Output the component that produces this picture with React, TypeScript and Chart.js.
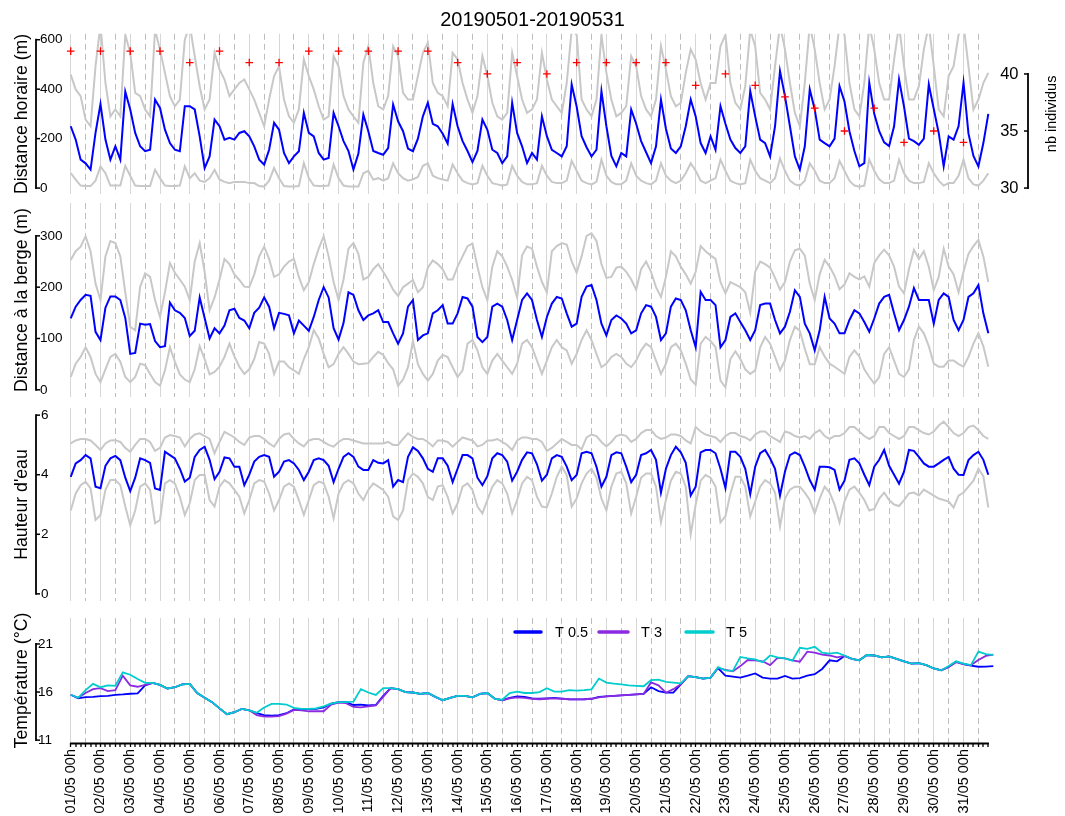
import React, { useEffect, useRef } from 'react';
import { Chart, registerables } from 'chart.js';

Chart.register(...registerables);

const FONT = "'Liberation Sans', Arial, Helvetica, sans-serif";

const TITLE = '20190501-20190531';
const DAY_LABELS = [
  '01/05 00h', '02/05 00h', '03/05 00h', '04/05 00h', '05/05 00h', '06/05 00h', '07/05 00h', '08/05 00h',
  '09/05 00h', '10/05 00h', '11/05 00h', '12/05 00h', '13/05 00h', '14/05 00h', '15/05 00h', '16/05 00h',
  '17/05 00h', '18/05 00h', '19/05 00h', '20/05 00h', '21/05 00h', '22/05 00h', '23/05 00h', '24/05 00h',
  '25/05 00h', '26/05 00h', '27/05 00h', '28/05 00h', '29/05 00h', '30/05 00h', '31/05 00h',
];

// hours between samples
const STEP_H = 4;
const STEP_T = 6;
const STEP_DAY = 24;

// ---------- Panel 1 : distance horaire (m) ----------
const distHoraireMed = [
  250, 196, 115, 100, 75, 223,
  340, 196, 115, 169, 115, 390,
  318, 223, 169, 149, 155, 358,
  324, 236, 182, 155, 149, 331,
  331, 318, 209, 81, 128, 277,
  250, 196, 203, 196, 223, 230,
  209, 169, 115, 95, 155, 264,
  236, 142, 101, 128, 149, 304,
  223, 209, 142, 115, 122, 304,
  250, 190, 150, 75, 140, 297,
  230, 150, 142, 135, 162, 338,
  270, 230, 160, 149, 200, 290,
  345, 260, 250, 220, 180, 340,
  250, 190, 150, 105, 150, 277,
  236, 155, 142, 101, 128, 345,
  223, 169, 101, 142, 115, 290,
  210, 155, 142, 128, 169, 419,
  330, 210, 165, 128, 155, 392,
  250, 130, 88, 142, 128, 318,
  260, 190, 145, 101, 169, 358,
  240, 160, 142, 169, 250, 358,
  290, 182, 142, 209, 155, 331,
  260, 196, 162, 142, 169, 392,
  290, 196, 182, 128, 250, 473,
  372, 250, 128, 74, 169, 399,
  318, 196, 182, 169, 200, 412,
  350, 230, 150, 88, 101, 426,
  300, 230, 185, 170, 250, 439,
  330, 200, 190, 175, 200, 419,
  320, 223, 88, 209, 196, 250,
  426, 220, 130, 88, 182, 300,
];
const distHoraireHaut = [
  459, 399, 372, 277, 250, 493,
  660, 425, 290, 318, 290, 620,
  547, 385, 372, 318, 290, 640,
  560, 466, 372, 331, 358, 600,
  660, 534, 412, 318, 358, 547,
  480, 439, 372, 399, 425, 439,
  399, 358, 304, 250, 358, 453,
  493, 358, 290, 264, 318, 520,
  453, 399, 331, 277, 290, 534,
  493, 372, 318, 290, 264, 507,
  574, 425, 331, 318, 372, 574,
  534, 385, 358, 358, 453, 547,
  588, 425, 385, 372, 331, 547,
  520, 425, 358, 304, 372, 534,
  453, 345, 290, 277, 304, 547,
  453, 358, 304, 318, 358, 547,
  439, 358, 331, 304, 425, 640,
  620, 358, 318, 290, 358, 620,
  466, 358, 290, 304, 331, 534,
  493, 372, 318, 290, 358, 574,
  480, 372, 331, 345, 466, 561,
  520, 425, 358, 425, 425, 574,
  620, 425, 345, 318, 412, 640,
  574, 385, 358, 318, 493, 660,
  561, 425, 304, 250, 425, 660,
  561, 425, 318, 358, 493, 660,
  620, 425, 318, 290, 425, 660,
  561, 425, 358, 358, 520, 660,
  493, 358, 358, 412, 561, 660,
  493, 318, 290, 453, 493, 620,
  660, 493, 318, 358, 425, 466,
];
const distHoraireBas = [
  61, 34, 10, 8, 8, 30,
  88, 60, 10, 10, 10, 90,
  50, 10, 8, 8, 8, 74,
  40, 10, 8, 8, 10, 88,
  40, 60, 30, 25, 40, 74,
  35, 25, 20, 25, 25, 25,
  20, 20, 8, 6, 30, 81,
  40, 8, 6, 6, 8, 101,
  40, 10, 8, 8, 10, 95,
  40, 10, 6, 6, 6, 60,
  70, 34, 40, 30, 40, 100,
  60, 40, 30, 35, 45, 90,
  100, 50, 40, 35, 30, 95,
  60, 30, 20, 15, 20, 90,
  50, 20, 15, 10, 15, 90,
  50, 25, 15, 15, 20, 90,
  50, 25, 20, 20, 30, 110,
  70, 30, 20, 15, 25, 115,
  50, 25, 15, 15, 30, 100,
  50, 30, 20, 15, 30, 100,
  50, 30, 20, 30, 60, 100,
  70, 30, 20, 30, 40, 115,
  70, 30, 20, 15, 20, 115,
  70, 40, 30, 20, 40, 120,
  70, 30, 15, 10, 30, 100,
  70, 30, 20, 20, 40, 110,
  70, 30, 10, 5, 10, 115,
  70, 35, 20, 20, 30, 115,
  60, 30, 20, 20, 25, 100,
  60, 30, 10, 20, 20, 50,
  115, 40, 15, 10, 30, 60,
];
const nbIndividus = [
  42, 42, 42, 42, 41, 42, 41, 41, 42, 42,
  42, 42, 42, 41, 40, 41, 40, 41, 41, 41,
  41, 39, 40, 39, 38, 37, 35, 37, 34, 35, 34,
];
const distHoraireTicks = [0, 200, 400, 600];
const nbIndividusTicks = [30, 35, 40];

// ---------- Panel 2 : distance a la berge (m) ----------
const bergeMed = [
  139, 162, 175, 185, 183, 113,
  97, 160, 182, 182, 175, 140,
  70, 72, 129, 127, 128, 95,
  83, 85, 170, 155, 150, 140,
  105, 115, 180, 140, 100, 120,
  110, 125, 155, 158, 140, 135,
  120, 150, 160, 180, 162, 120,
  150, 148, 145, 110, 135, 125,
  115, 142, 175, 200, 180, 120,
  98, 130, 190, 185, 155, 136,
  145, 149, 155, 132, 132, 110,
  90, 110, 162, 175, 97, 106,
  110, 149, 155, 165, 129, 129,
  149, 181, 178, 162, 103, 93,
  103, 162, 168, 162, 136, 97,
  136, 175, 188, 175, 136, 103,
  142, 168, 181, 178, 149, 123,
  129, 181, 201, 204, 175, 129,
  106, 136, 145, 139, 129, 110,
  116, 149, 165, 162, 142, 97,
  110, 162, 178, 175, 155, 116,
  83, 191, 175, 175, 165, 83,
  97, 142, 149, 132, 116, 97,
  116, 165, 168, 168, 136, 110,
  123, 152, 194, 181, 129, 110,
  77, 116, 181, 139, 129, 110,
  110, 136, 155, 149, 132, 113,
  139, 168, 181, 185, 149, 116,
  136, 162, 198, 175, 175, 175,
  129, 175, 188, 181, 136, 116,
  136, 181, 188, 204, 149, 110,
];
const bergeHaut = [
  253, 270, 279, 299, 270, 207,
  175, 260, 290, 286, 260, 190,
  123, 116, 201, 227, 220, 175,
  142, 190, 247, 228, 215, 201,
  175, 250, 286, 230, 155, 180,
  215, 255, 245, 225, 214, 201,
  200, 225, 260, 279, 255, 220,
  225, 240, 250, 255, 220, 194,
  210, 245, 275, 299, 260, 210,
  175, 215, 275, 286, 265, 215,
  220, 235, 245, 230, 214, 195,
  183, 200, 207, 214, 190, 200,
  238, 252, 245, 235, 215, 215,
  240, 260, 280, 285, 240, 200,
  175, 240, 270, 260, 240, 214,
  180, 262, 279, 275, 240, 210,
  190, 270, 280, 286, 283, 250,
  228, 260, 300, 305, 290, 245,
  218, 220, 238, 240, 230, 215,
  195, 235, 250, 230, 200, 181,
  220, 270, 260, 240, 225, 207,
  230, 280, 270, 262, 255, 210,
  188, 210, 205, 200, 190, 150,
  230, 250, 245, 238, 218, 195,
  210, 250, 272, 275, 262, 207,
  175, 225, 253, 240, 222, 196,
  205, 227, 220, 215, 221, 201,
  247, 262, 273, 262, 240, 201,
  188, 235, 273, 255, 270, 240,
  194, 220, 275, 240, 225, 190,
  230, 265, 280, 292, 260, 210,
];
const bergeBas = [
  25, 51, 64, 83, 64, 31,
  15, 40, 64, 70, 55, 25,
  15, 25, 51, 48, 31, 15,
  8, 38, 83, 55, 30, 20,
  15, 40, 85, 60, 30, 35,
  45, 64, 90, 65, 45, 31,
  40, 60, 93, 90, 70, 31,
  55, 55, 44, 38, 31, 60,
  83, 116, 100, 70, 44, 50,
  70, 83, 70, 55, 50, 51,
  52, 64, 74, 68, 52, 40,
  8, 20, 44, 95, 50, 31,
  18, 31, 57, 68, 64, 44,
  25, 38, 90, 97, 77, 44,
  31, 57, 70, 57, 44, 31,
  51, 90, 97, 83, 57, 31,
  57, 83, 97, 83, 77, 51,
  70, 97, 116, 97, 70, 44,
  51, 64, 70, 64, 51, 44,
  57, 77, 90, 83, 57, 31,
  51, 83, 90, 77, 51, 20,
  10, 90, 103, 95, 83, 18,
  5, 60, 75, 60, 40, 31,
  38, 83, 103, 90, 64, 38,
  57, 97, 123, 115, 80, 50,
  50, 83, 65, 51, 45, 38,
  31, 64, 77, 65, 40, 25,
  12, 25, 70, 83, 57, 31,
  25, 40, 97, 123, 110, 85,
  51, 45, 45, 57, 57, 50,
  45, 64, 90, 110, 85, 45,
];
const bergeTicks = [0, 100, 200, 300];

// ---------- Panel 3 : hauteur d'eau ----------
const hauteurMed = [
  3.93, 4.38, 4.49, 4.66, 4.55, 3.6,
  3.55, 4.3, 4.55, 4.63, 4.49, 3.9,
  3.45, 3.9, 4.55, 4.49, 4.4, 3.54,
  3.49, 4.77, 4.66, 4.55, 4.2, 3.77,
  3.9, 4.6, 4.83, 4.94, 4.5, 3.85,
  4.1, 4.58, 4.55, 4.27, 4.27, 3.65,
  4.0, 4.44, 4.6, 4.66, 4.6, 3.93,
  4.1, 4.44, 4.49, 4.38, 4.16, 3.82,
  4.1, 4.49, 4.55, 4.49, 4.3, 3.75,
  4.2, 4.6, 4.72, 4.6, 4.27, 4.16,
  4.16, 4.49, 4.4, 4.38, 4.49, 3.6,
  3.82, 3.75, 4.6, 4.92, 4.8, 4.55,
  4.2, 4.1, 4.55, 4.55, 4.3, 3.75,
  4.2, 4.66, 4.66, 4.55, 3.9, 3.65,
  3.95, 4.55, 4.72, 4.66, 4.44, 3.8,
  4.1, 4.5, 4.75, 4.72, 4.35, 3.8,
  4.0, 4.55, 4.66, 4.6, 4.27, 3.82,
  3.99, 4.72, 4.77, 4.72, 4.27, 3.6,
  3.93, 4.66, 4.75, 4.72, 4.27, 3.75,
  4.0, 4.66, 4.72, 4.83, 4.5, 3.4,
  4.2, 4.66, 4.94, 4.75, 4.4, 3.3,
  3.6, 4.75, 4.83, 4.83, 4.72, 4.2,
  3.55, 4.77, 4.77, 4.6, 4.2, 3.35,
  4.27, 4.72, 4.83, 4.55, 4.2, 3.3,
  4.1, 4.66, 4.75, 4.66, 4.27, 3.82,
  3.5, 4.27, 4.27, 4.25, 4.16, 3.5,
  3.8, 4.5, 4.55, 4.38, 4.0, 3.65,
  4.27, 4.5, 4.83, 4.3, 4.0, 3.7,
  4.1, 4.83, 4.8, 4.6, 4.38, 4.27,
  4.27, 4.38, 4.5, 4.6, 4.2, 4.0,
  3.99, 4.49, 4.66, 4.77, 4.5, 4.0,
];
const hauteurHaut = [
  5.05, 5.15, 5.2, 5.2, 5.15, 5.0,
  4.83, 5.05, 5.15, 5.16, 5.1, 4.9,
  4.77, 5.0, 5.2, 5.2, 5.1, 4.8,
  4.9, 5.25, 5.33, 5.3, 5.25, 4.95,
  5.2, 5.35, 5.39, 5.3, 5.2, 4.72,
  5.1, 5.44, 5.35, 5.25, 5.1, 5.0,
  5.25, 5.3, 5.3, 5.2, 5.05, 4.94,
  5.2, 5.35, 5.39, 5.2, 5.05, 4.95,
  5.15, 5.2, 5.2, 5.1, 5.0, 4.94,
  5.1, 5.2, 5.2, 5.15, 5.1, 5.05,
  5.05, 5.05, 5.05, 5.05, 5.1, 5.0,
  5.0, 5.2, 5.39, 5.27, 5.2, 5.2,
  5.1, 4.95, 5.15, 5.15, 5.1, 4.94,
  5.1, 5.25, 5.2, 5.15, 4.95, 5.0,
  5.15, 5.15, 5.2, 5.1, 5.0, 4.83,
  5.15, 5.25, 5.25, 5.2, 5.2, 5.1,
  4.8, 4.9, 5.05, 5.2, 5.1, 5.0,
  5.0, 4.85, 5.25, 5.35, 5.3, 5.1,
  4.95, 5.1, 5.3, 5.35, 5.3, 5.1,
  5.2, 5.4, 5.5, 5.5, 5.3, 5.2,
  5.25, 5.35, 5.35, 5.3, 5.15, 5.05,
  5.6, 5.45, 5.35, 5.3, 5.25, 5.1,
  5.3, 5.4, 5.4, 5.3, 5.25, 5.15,
  5.35, 5.45, 5.45, 5.3, 5.2, 5.1,
  5.45, 5.4, 5.3, 5.25, 5.3, 5.2,
  5.4, 5.5, 5.3, 5.2, 5.3, 5.3,
  5.4, 5.6, 5.6, 5.45, 5.3, 5.2,
  5.3, 5.6, 5.6, 5.4, 5.3, 5.2,
  5.3, 5.6, 5.6, 5.5, 5.4, 5.35,
  5.45, 5.65, 5.78, 5.6, 5.4, 5.3,
  5.4, 5.6, 5.65, 5.5, 5.3, 5.2,
];
const hauteurBas = [
  2.8, 3.37, 3.65, 3.77, 3.54, 2.48,
  2.65, 3.49, 3.82, 3.82, 3.65, 2.93,
  2.3, 2.8, 3.6, 3.71, 3.49, 2.37,
  2.48, 3.71, 3.82, 3.71, 3.26, 2.65,
  3.04, 3.82, 3.99, 4.0, 3.15, 2.93,
  3.6, 3.82, 3.71, 3.49, 3.26, 2.7,
  3.15, 3.71, 3.82, 3.77, 3.37, 2.8,
  3.15, 3.6, 3.71, 3.6, 3.15, 2.65,
  3.15, 3.65, 3.77, 3.71, 3.26, 2.54,
  3.37, 3.71, 3.82, 3.71, 3.37, 3.15,
  3.49, 3.71, 3.6, 3.49, 3.26, 2.6,
  2.48, 2.8, 3.82, 4.04, 3.93, 3.71,
  3.26, 3.15, 3.6, 3.65, 3.26, 2.7,
  3.04, 3.6, 3.71, 3.49, 2.93, 2.7,
  3.15, 3.6, 3.82, 3.71, 3.37, 2.7,
  3.15, 3.71, 3.93, 3.82, 3.26, 2.93,
  2.9, 3.37, 3.93, 4.27, 3.99, 2.93,
  3.2, 3.71, 4.04, 4.2, 3.9, 3.2,
  2.8, 3.6, 4.04, 4.1, 3.71, 2.7,
  3.26, 3.9, 4.04, 4.04, 3.6, 2.4,
  3.15, 3.8, 4.1, 4.04, 3.6, 2.0,
  3.0, 3.8, 3.99, 3.9, 3.6, 2.4,
  2.6, 3.37, 3.93, 3.93, 3.6, 2.6,
  3.1, 3.6, 3.82, 3.71, 3.4, 2.26,
  3.2, 3.5, 3.6, 3.6, 3.4, 3.15,
  2.7, 3.2, 3.6, 3.4, 3.0, 2.4,
  3.1, 3.5, 3.6, 3.4, 3.15, 2.8,
  2.85, 3.2, 3.4, 3.15, 3.0, 2.95,
  3.15, 3.37, 3.4, 3.3, 3.5, 3.4,
  3.3, 3.2, 3.15, 3.1, 2.9, 3.3,
  3.4, 3.6, 3.8, 4.2, 3.95, 2.9,
];
const hauteurTicks = [0, 2, 4, 6];

// ---------- Panel 4 : temperature (6 h steps) ----------
const temp05 = [
  15.72, 15.35, 15.47, 15.5,
  15.58, 15.6, 15.7, 15.75,
  15.82, 15.85, 16.7, 16.95,
  16.75, 16.35, 16.5, 16.8,
  16.85, 15.9, 15.4, 14.95,
  14.3, 13.7, 13.9, 14.25,
  14.1, 13.8, 13.6, 13.55,
  13.6, 13.8, 14.2, 14.2,
  14.25, 14.25, 14.4, 14.8,
  14.95, 14.95, 14.65, 14.7,
  14.6, 14.65, 15.6, 16.4,
  16.3, 16.0, 15.95, 15.8,
  15.9, 15.5, 15.15, 15.4,
  15.6, 15.6, 15.45, 15.8,
  15.9, 15.3, 15.15, 15.4,
  15.55, 15.5, 15.35, 15.3,
  15.35, 15.4, 15.32, 15.25,
  15.23, 15.25, 15.3, 15.5,
  15.55, 15.6, 15.65, 15.7,
  15.75, 15.8, 16.5, 16.1,
  15.93, 15.93, 16.8, 17.65,
  17.55, 17.4, 17.5, 18.5,
  17.7, 17.6, 17.5, 17.7,
  17.93, 17.5, 17.4, 17.4,
  17.68, 17.4, 17.45, 17.7,
  17.85, 18.4, 19.3, 19.2,
  19.75, 19.45, 19.3, 19.85,
  19.8, 19.6, 19.7, 19.45,
  19.2, 18.95, 19.0, 18.8,
  18.45, 18.25, 18.6, 19.15,
  18.9, 18.74, 18.63, 18.65,
  18.7,
];
const temp3 = [
  15.72, 15.4, 15.9, 16.3,
  16.4, 16.1, 16.2, 17.7,
  16.7, 16.55, 16.75, 16.95,
  16.75, 16.35, 16.5, 16.8,
  16.85, 15.9, 15.4, 14.95,
  14.3, 13.7, 13.9, 14.25,
  14.1, 13.6, 13.45, 13.45,
  13.5, 13.75, 14.15, 14.1,
  14.0, 14.0, 14.0, 14.7,
  14.9, 14.85, 14.45, 14.4,
  14.5, 14.6, 15.5, 16.4,
  16.3, 16.0, 15.95, 15.8,
  15.9, 15.5, 15.15, 15.4,
  15.6, 15.6, 15.45, 15.8,
  15.9, 15.3, 15.15, 15.35,
  15.45, 15.4, 15.3, 15.25,
  15.3, 15.35, 15.3, 15.25,
  15.23, 15.25, 15.3, 15.45,
  15.55, 15.6, 15.65, 15.7,
  15.75, 15.8, 17.0, 16.7,
  15.93, 16.3, 16.8, 17.65,
  17.55, 17.4, 17.5, 18.5,
  18.3, 18.15, 18.7, 19.33,
  19.3, 19.2, 18.8, 19.55,
  19.5, 19.3, 19.15, 20.2,
  20.1, 19.9, 19.8, 19.6,
  19.75, 19.45, 19.3, 19.85,
  19.8, 19.6, 19.7, 19.45,
  19.2, 18.95, 19.0, 18.8,
  18.45, 18.25, 18.6, 19.1,
  18.9, 18.8, 19.33, 19.75,
  19.9,
];
const temp5 = [
  15.72, 15.4, 16.2, 16.85,
  16.5, 16.7, 16.65, 18.05,
  17.8, 17.35, 16.95, 16.95,
  16.75, 16.35, 16.5, 16.8,
  16.85, 15.9, 15.4, 14.95,
  14.3, 13.7, 13.9, 14.25,
  14.1, 13.85, 14.4, 14.77,
  14.77, 14.7, 14.35, 14.25,
  14.25, 14.3, 14.5, 14.8,
  14.95, 14.95, 15.0, 16.3,
  15.95, 15.7, 16.4, 16.4,
  16.3, 16.0, 15.95, 15.8,
  15.9, 15.5, 15.15, 15.4,
  15.6, 15.6, 15.45, 15.8,
  15.9, 15.3, 15.2, 15.9,
  16.05, 15.9, 15.9, 16.0,
  16.4, 16.05, 16.05, 16.2,
  16.14, 16.2, 16.28, 17.4,
  16.98, 16.88, 16.8, 16.7,
  16.65, 16.6, 17.23, 17.3,
  17.05, 16.98, 16.9, 17.65,
  17.55, 17.4, 17.5, 18.6,
  18.25, 18.2, 19.65, 19.5,
  19.4, 19.1, 19.8, 19.6,
  19.5, 19.25, 20.6, 20.5,
  20.7, 20.1, 20.0, 20.1,
  19.8, 19.45, 19.3, 19.85,
  19.8, 19.6, 19.7, 19.45,
  19.2, 18.95, 19.0, 18.8,
  18.45, 18.25, 18.7, 19.2,
  18.95, 18.8, 20.2, 19.95,
  19.86,
];
const tempTicks = [11, 16, 21];
const tempSeriesLabels = ['T 0.5', 'T 3', 'T 5'];

// ---------- styling ----------
const BLUE = '#0000ff';
const GREY = '#c8c8c8';
const RED = '#ff0000';
const T05_COLOR = '#0000ff';
const T3_COLOR = '#8a2be2';
const T5_COLOR = '#00cdcd';
const GRID_SOLID = '#d6d6d6';
const GRID_DASH = '#bdbdbd';

const X_MIN = -28;
const X_MAX = 772;
const X_TICK_COUNT = 186;

const toPts = (arr: number[], step: number) => arr.map((v, i) => ({ x: i * step, y: v }));

function xScale(bottom: boolean): any {
  const xTicks = Array.from({ length: X_TICK_COUNT }, (_, i) => i * STEP_H);
  return {
    type: 'linear',
    min: X_MIN,
    max: X_MAX,
    display: true,
    afterBuildTicks: (s: any) => {
      s.ticks = xTicks.map((v) => ({ value: v }));
    },
    afterFit: (s: any) => {
      s.height = bottom ? 73 : 0;
      s.paddingLeft = 0;
      s.paddingRight = 0;
      s.paddingTop = 0;
      s.paddingBottom = 0;
    },
    grid: {
      display: true,
      drawOnChartArea: true,
      drawTicks: bottom,
      color: (c: any) => (c.tick && c.tick.value % 24 === 0 ? GRID_SOLID : GRID_DASH),
      lineWidth: (c: any) => (c.tick && c.tick.value % 12 === 0 ? 1 : 0),
      tickColor: '#000',
      tickWidth: 1.3,
      tickLength: 4,
    },
    border: {
      display: false,
      dash: (c: any) => (c.tick && c.tick.value % 24 === 12 ? [6, 4] : []),
    },
    ticks: {
      display: bottom,
      autoSkip: false,
      maxRotation: 90,
      minRotation: 90,
      padding: 2,
      color: '#000',
      font: { family: FONT, size: 14.5 },
      callback: (v: any) => (v % 24 === 0 ? DAY_LABELS[v / 24] : ''),
    },
  };
}

function yScale(
  position: string,
  min: number,
  max: number,
  ticks: number[],
  title: string | null,
  tickSize: number,
  tickPad: number,
  width: number,
): any {
  return {
    type: 'linear',
    position,
    min,
    max,
    display: true,
    afterBuildTicks: (s: any) => {
      s.ticks = ticks.map((v) => ({ value: v }));
    },
    afterFit: (s: any) => {
      s.width = width;
      s.paddingTop = 0;
      s.paddingBottom = 0;
      s.paddingLeft = 0;
      s.paddingRight = 0;
    },
    grid: { display: false, drawTicks: false },
    border: { display: false },
    ticks: {
      mirror: true,
      padding: tickPad,
      color: '#000',
      font: { family: FONT, size: tickSize },
      callback: (v: any) => String(v),
    },
    title: title
      ? {
          display: true,
          text: title,
          color: '#000',
          font: { family: FONT, size: 17.7 },
          padding: { top: 11, bottom: 0 },
        }
      : { display: false },
  };
}

type AxisSpec = { id: string; side: 'left' | 'right'; ticks: number[] };

function rAxesPlugin(spec: {
  yAxes: AxisSpec[];
  xAxis?: boolean;
  rightTitle?: string;
  legend?: { label: string; color: string; x1: number; x2: number; tx: number; y: number }[];
}): any {
  return {
    id: 'rAxes',
    afterDraw(chart: any) {
      const ctx = chart.ctx;
      const ca = chart.chartArea;
      ctx.save();
      ctx.strokeStyle = '#000';
      ctx.fillStyle = '#000';
      for (const ax of spec.yAxes) {
        const sc = chart.scales[ax.id];
        const x = ax.side === 'left' ? Math.round(ca.left) : Math.round(ca.right);
        const ya = sc.getPixelForValue(ax.ticks[0]);
        const yb = sc.getPixelForValue(ax.ticks[ax.ticks.length - 1]);
        ctx.lineWidth = 1.8;
        ctx.beginPath();
        ctx.moveTo(x, ya + 0.9);
        ctx.lineTo(x, yb - 0.9);
        ctx.stroke();
        ctx.lineWidth = 1.5;
        const d = ax.side === 'left' ? 4 : -4;
        for (const v of ax.ticks) {
          const y = sc.getPixelForValue(v);
          ctx.beginPath();
          ctx.moveTo(x, y);
          ctx.lineTo(x + d, y);
          ctx.stroke();
        }
      }
      if (spec.xAxis) {
        const sc = chart.scales.x;
        const y = ca.bottom + 0.5;
        ctx.lineWidth = 2;
        ctx.beginPath();
        ctx.moveTo(sc.getPixelForValue(0) - 0.6, y);
        ctx.lineTo(sc.getPixelForValue((X_TICK_COUNT - 1) * STEP_H) + 0.6, y);
        ctx.stroke();
      }
      if (spec.rightTitle) {
        ctx.save();
        ctx.font = `14.5px ${FONT}`;
        ctx.textAlign = 'center';
        ctx.textBaseline = 'middle';
        ctx.translate(1052, (ca.top + ca.bottom) / 2);
        ctx.rotate(-Math.PI / 2);
        ctx.fillText(spec.rightTitle, 0, 0);
        ctx.restore();
      }
      if (spec.legend) {
        ctx.font = `14.5px ${FONT}`;
        ctx.textAlign = 'left';
        ctx.textBaseline = 'middle';
        for (const it of spec.legend) {
          ctx.strokeStyle = it.color;
          ctx.lineWidth = 3.5;
          ctx.lineCap = 'round';
          ctx.beginPath();
          ctx.moveTo(it.x1, it.y);
          ctx.lineTo(it.x2, it.y);
          ctx.stroke();
          ctx.fillStyle = '#000';
          ctx.fillText(it.label, it.tx, it.y + 0.5);
        }
      }
      ctx.restore();
    },
  };
}

const lineDs = (data: any[], color: string, width: number, order: number, yAxisID = 'y') => ({
  type: 'line',
  data,
  borderColor: color,
  backgroundColor: color,
  borderWidth: width,
  pointRadius: 0,
  pointHoverRadius: 0,
  tension: 0,
  fill: false,
  order,
  yAxisID,
});

const baseOptions = (padding: any) => ({
  responsive: false,
  maintainAspectRatio: false,
  animation: false,
  events: [],
  layout: { padding },
  plugins: {
    legend: { display: false },
    tooltip: { enabled: false },
    title: { display: false },
  },
});

export default function App() {
  const c1 = useRef<HTMLCanvasElement>(null);
  const c2 = useRef<HTMLCanvasElement>(null);
  const c3 = useRef<HTMLCanvasElement>(null);
  const c4 = useRef<HTMLCanvasElement>(null);

  useEffect(() => {
    document.body.style.margin = '0';
    Chart.defaults.font.family = FONT;
    Chart.defaults.color = '#000';
    const charts: any[] = [];

    // Panel 1
    const o1: any = baseOptions({ top: 0, bottom: 6, left: 0, right: 0 });
    o1.plugins.title = {
      display: true,
      text: TITLE,
      color: '#000',
      font: { family: FONT, size: 20, weight: 'normal' },
      padding: { top: 8.5, bottom: 1.3 },
    };
    o1.scales = {
      x: xScale(false),
      y: yScale('left', -24, 624, distHoraireTicks, 'Distance horaire (m)', 13.5, 4, 36),
      y1: yScale('right', 29.48, 43.52, nbIndividusTicks, null, 16.5, -9.5, 37),
    };
    charts.push(
      new Chart(c1.current as HTMLCanvasElement, {
        type: 'line',
        data: {
          datasets: [
            {
              type: 'line',
              data: nbIndividus.map((v, i) => ({ x: i * STEP_DAY, y: v })),
              showLine: false,
              pointStyle: 'cross',
              pointRadius: 3.8,
              pointBorderColor: RED,
              pointBackgroundColor: RED,
              pointBorderWidth: 1.3,
              borderColor: RED,
              order: 0,
              yAxisID: 'y1',
            },
            lineDs(toPts(distHoraireMed, STEP_H), BLUE, 2, 1),
            lineDs(toPts(distHoraireHaut, STEP_H), GREY, 2, 2),
            lineDs(toPts(distHoraireBas, STEP_H), GREY, 2, 3),
          ] as any,
        },
        options: o1,
        plugins: [
          rAxesPlugin({
            yAxes: [
              { id: 'y', side: 'left', ticks: distHoraireTicks },
              { id: 'y1', side: 'right', ticks: nbIndividusTicks },
            ],
            rightTitle: 'nb individus',
          }),
        ],
      } as any),
    );

    // Panel 2
    const o2: any = baseOptions({ top: 3, bottom: 3, left: 0, right: 37 });
    o2.scales = {
      x: xScale(false),
      y: yScale('left', -14, 364, bergeTicks, 'Distance à la berge (m)', 13.5, 4, 36),
    };
    charts.push(
      new Chart(c2.current as HTMLCanvasElement, {
        type: 'line',
        data: {
          datasets: [
            lineDs(toPts(bergeMed, STEP_H), BLUE, 2, 1),
            lineDs(toPts(bergeHaut, STEP_H), GREY, 2, 2),
            lineDs(toPts(bergeBas, STEP_H), GREY, 2, 3),
          ] as any,
        },
        options: o2,
        plugins: [rAxesPlugin({ yAxes: [{ id: 'y', side: 'left', ticks: bergeTicks }] })],
      } as any),
    );

    // Panel 3
    const o3: any = baseOptions({ top: 8, bottom: 9, left: 0, right: 37 });
    o3.scales = {
      x: xScale(false),
      y: yScale('left', -0.24, 6.24, hauteurTicks, "Hauteur d'eau", 13.5, 5, 36),
    };
    charts.push(
      new Chart(c3.current as HTMLCanvasElement, {
        type: 'line',
        data: {
          datasets: [
            lineDs(toPts(hauteurMed, STEP_H), BLUE, 2, 1),
            lineDs(toPts(hauteurHaut, STEP_H), GREY, 2, 2),
            lineDs(toPts(hauteurBas, STEP_H), GREY, 2, 3),
          ] as any,
        },
        options: o3,
        plugins: [rAxesPlugin({ yAxes: [{ id: 'y', side: 'left', ticks: hauteurTicks }] })],
      } as any),
    );

    // Panel 4
    const o4: any = baseOptions({ top: 8, bottom: 0, left: 0, right: 37 });
    o4.scales = {
      x: xScale(true),
      y: yScale('left', 10.7, 23.7, tempTicks, 'Température (°C)', 13.5, 2, 36),
    };
    charts.push(
      new Chart(c4.current as HTMLCanvasElement, {
        type: 'line',
        data: {
          datasets: [
            { ...lineDs(toPts(temp5, STEP_T), T5_COLOR, 1.8, 1), label: tempSeriesLabels[2] },
            { ...lineDs(toPts(temp3, STEP_T), T3_COLOR, 1.8, 2), label: tempSeriesLabels[1] },
            { ...lineDs(toPts(temp05, STEP_T), T05_COLOR, 1.8, 3), label: tempSeriesLabels[0] },
          ] as any,
        },
        options: o4,
        plugins: [
          rAxesPlugin({
            yAxes: [{ id: 'y', side: 'left', ticks: tempTicks }],
            xAxis: true,
            legend: [
              { label: tempSeriesLabels[0], color: T05_COLOR, x1: 515, x2: 541, tx: 555, y: 22 },
              { label: tempSeriesLabels[1], color: T3_COLOR, x1: 599, x2: 628, tx: 641, y: 22 },
              { label: tempSeriesLabels[2], color: T5_COLOR, x1: 686, x2: 713, tx: 726, y: 22 },
            ],
          }),
        ],
      } as any),
    );

    return () => charts.forEach((c) => c.destroy());
  }, []);

  const cv = (top: number, h: number): React.CSSProperties => ({
    position: 'absolute',
    left: 0,
    top,
    width: 1065,
    height: h,
    display: 'block',
  });

  return (
    <div
      style={{
        position: 'fixed',
        left: 0,
        top: 0,
        width: 1065,
        height: 816,
        background: '#ffffff',
        overflow: 'hidden',
      }}
    >
      <canvas ref={c1} width={1065} height={200} style={cv(0, 200)} />
      <canvas ref={c2} width={1065} height={200} style={cv(200, 200)} />
      <canvas ref={c3} width={1065} height={210} style={cv(400, 210)} />
      <canvas ref={c4} width={1065} height={206} style={cv(610, 206)} />
    </div>
  );
}
